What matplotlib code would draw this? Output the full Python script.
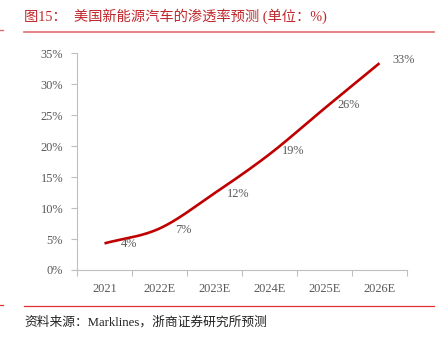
import matplotlib
matplotlib.use("Agg")
import matplotlib.pyplot as plt
import numpy as np
from matplotlib.lines import Line2D
from matplotlib.ticker import FixedLocator, FuncFormatter

years = ["2021", "2022E", "2023E", "2024E", "2025E", "2026E"]
penetration = [4.3, 6.7, 12.4, 18.7, 26.1, 33.4]
labels = ["4%", "7%", "12%", "19%", "26%", "33%"]
yticks = [0, 5, 10, 15, 20, 25, 30, 35]

W, H = 440, 339
fig = plt.figure(figsize=(W / 100, H / 100), dpi=100)
ax = fig.add_axes([77 / W, 1 - 270 / H, 330 / W, (270 - 53.3) / H])

# smoothed line (Catmull-Rom between data points), scaled so both axes are comparable
x = np.arange(len(years), dtype=float)
y = np.array(penetration, dtype=float)
sx, sy = 55.0, 6.2  # pixel per unit
px, py = x * sx, y * sy
P = np.column_stack([px, py])
P_ext = np.vstack([2 * P[0] - P[1], P, 2 * P[-1] - P[-2]])
curve = []
for i in range(1, len(P_ext) - 2):
    p0, p1, p2, p3 = P_ext[i - 1], P_ext[i], P_ext[i + 1], P_ext[i + 2]
    c1 = p1 + (p2 - p0) / 6
    c2 = p2 - (p3 - p1) / 6
    t = np.linspace(0, 1, 30)[:, None]
    seg = (1 - t) ** 3 * p1 + 3 * (1 - t) ** 2 * t * c1 + 3 * (1 - t) * t ** 2 * c2 + t ** 3 * p2
    curve.append(seg if i == 1 else seg[1:])
curve = np.vstack(curve)
ax.plot(curve[:, 0] / sx, curve[:, 1] / sy, color="#C00000", lw=1.9, solid_capstyle="butt")

serif = ["Liberation Serif", "DejaVu Serif"]
gray = "#595959"
fs = 8.9
for xi, yi, lab in zip(x, y, labels):
    ax.annotate(lab, (xi, yi), xytext=(24, -1 if xi < 3 else 3), textcoords="offset pixels",
                ha="center", va="center", fontsize=fs, color=gray, family=serif)

ax.set_xlim(-0.5, 5.5)
ax.set_ylim(0, 35)
ax.set_xticks(x)
ax.set_xticklabels(years)
ax.xaxis.set_minor_locator(FixedLocator(np.arange(-0.5, 6.0, 1.0)))
ax.tick_params(axis="x", which="major", length=0, pad=9, labelsize=fs, labelcolor=gray)
ax.tick_params(axis="x", which="minor", length=4, color="#BFBFBF", width=0.8)
ax.set_yticks(yticks)
ax.yaxis.set_major_formatter(FuncFormatter(lambda v, p: f"{int(v)}%"))
ax.tick_params(axis="y", length=4, color="#BFBFBF", width=0.8, pad=6, labelsize=fs, labelcolor=gray)
for lab in ax.get_xticklabels() + ax.get_yticklabels():
    lab.set_family(serif)
for s in ["top", "right"]:
    ax.spines[s].set_visible(False)
for s in ["left", "bottom"]:
    ax.spines[s].set_color("#BFBFBF")
    ax.spines[s].set_linewidth(0.8)

mixed = ["Liberation Serif", "Noto Sans CJK SC", "DejaVu Sans"]
fig.text(24 / W, 1 - 16 / H, "图15：  美国新能源汽车的渗透率预测 (单位：%)", fontsize=10.3,
         color="#C0282D", family=mixed, ha="left", va="center")
fig.add_artist(Line2D([24 / W, 434 / W], [1 - 32 / H, 1 - 32 / H], color="#E06C6C", lw=1.2))
fig.add_artist(Line2D([0, 3 / W], [1 - 30 / H, 1 - 30 / H], color="#E06C6C", lw=1))
fig.add_artist(Line2D([24 / W, 434 / W], [1 - 305.5 / H, 1 - 305.5 / H], color="#E03030", lw=0.9))
fig.add_artist(Line2D([0, 3 / W], [1 - 305 / H, 1 - 305 / H], color="#E03030", lw=0.9))
fig.text(24 / W, 1 - 322 / H, "资料来源：Marklines，浙商证券研究所预测", fontsize=9.2,
         color="#222222", family=mixed, ha="left", va="center")

fig.savefig("out.png", dpi=100)
